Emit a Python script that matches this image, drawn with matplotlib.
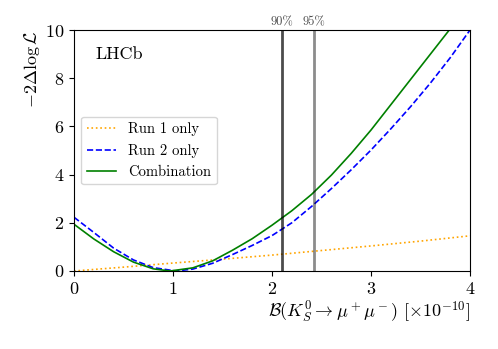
import matplotlib
matplotlib.use('Agg')
import matplotlib.pyplot as plt

plt.rcParams['font.family'] = 'serif'
plt.rcParams['font.serif'] = ['cmr10']
plt.rcParams['mathtext.fontset'] = 'cm'
plt.rcParams['axes.formatter.use_mathtext'] = True

# values
x_run1 = [0, 0.5, 1.0, 1.5, 2.0, 2.5, 3.0, 3.5, 4.0]
y_run1 = [0, 0.16, 0.33, 0.49, 0.66, 0.85, 1.04, 1.24, 1.46]

x_run2 = [0, 0.2, 0.4, 0.6, 0.8, 1.03, 1.2, 1.4, 1.6, 1.8, 2.0, 2.2, 2.4, 2.6, 2.8, 3.0, 3.2, 3.4, 3.6, 3.8, 4.0]
y_run2 = [2.23, 1.6, 0.95, 0.46, 0.14, 0.0, 0.08, 0.32, 0.68, 1.06, 1.47, 2.0, 2.68, 3.42, 4.2, 5.02, 5.9, 6.82, 7.8, 8.85, 10.0]

x_comb = [0, 0.2, 0.4, 0.6, 0.8, 0.97, 1.2, 1.4, 1.6, 1.8, 2.0, 2.2, 2.4, 2.6, 2.8, 3.0, 3.2, 3.4, 3.6, 3.8, 3.9]
y_comb = [1.94, 1.33, 0.8, 0.37, 0.09, 0.0, 0.13, 0.42, 0.86, 1.34, 1.9, 2.5, 3.18, 3.98, 4.88, 5.85, 6.9, 7.95, 9.0, 10.05, 10.6]

limits = [2.1, 2.42]
limit_labels = ['90%', '95%']
limit_alpha = [0.7, 0.45]

fig = plt.figure(figsize=(4.98, 3.49), dpi=100)
ax = fig.add_axes([0.1486, 0.2235, 0.7952, 0.6905])

ax.plot(x_run1, y_run1, ':', color='orange', lw=1.2, label='Run 1 only')
ax.plot(x_run2, y_run2, '--', color='blue', lw=1.2, label='Run 2 only')
ax.plot(x_comb, y_comb, '-', color='green', lw=1.2, label='Combination')

for xl, lab, a in zip(limits, limit_labels, limit_alpha):
    ax.axvline(xl, color='k', alpha=a, lw=2)
    ax.text(xl, 10.05, lab, ha='center', va='bottom', fontsize=9, color='0.3')

ax.text(0.053, 0.9, 'LHCb', transform=ax.transAxes, fontsize=13, va='center')

ax.set_xlim(0, 4)
ax.set_ylim(0, 10)
ax.set_xticks([0, 1, 2, 3, 4])
ax.set_yticks([0, 2, 4, 6, 8, 10])
ax.tick_params(labelsize=13)
ax.set_xlabel(r'$\mathcal{B}(K^0_S\to\mu^+\mu^-)$ $[\times10^{-10}]$', fontsize=13, loc='right', labelpad=2)
ax.set_ylabel(r'$-2\Delta\log\mathcal{L}$', fontsize=13, loc='top', labelpad=2)
ax.legend(loc='center left', bbox_to_anchor=(0.0, 0.5), fontsize=10.5)

fig.savefig('out.png', dpi=100)
